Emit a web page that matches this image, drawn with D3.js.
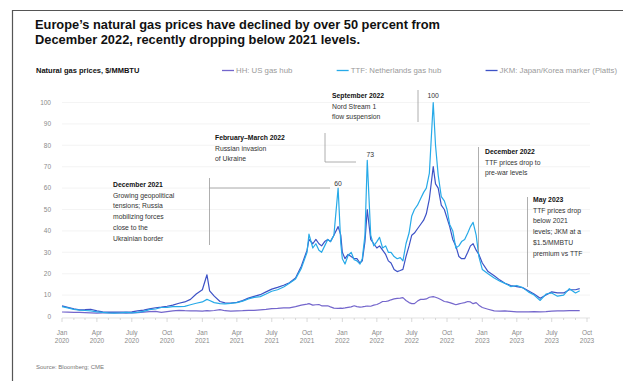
<!DOCTYPE html>
<meta charset="utf-8">
<title>gas prices</title>
<script src="https://cdn.jsdelivr.net/npm/d3@7"></script>
<style>
body { margin: 0; background: #fff; }
text { font-family: "Liberation Sans", Arial, sans-serif; }
.axis text { fill: #8a8a8a; font-size: 6.5px; }
.note { fill: #333; font-size: 6.8px; }
.note-b { fill: #111; font-size: 6.8px; font-weight: bold; }
.lead { stroke: #9a9a9a; stroke-width: 0.8px; fill: none; }
</style>
<body>
<script>

// semi-monthly readings (weekly-ish through the 2021-22 crisis), plus spike days
var dates = [
  "2020-01-01","2020-01-16","2020-02-01","2020-02-16","2020-03-01","2020-03-16","2020-04-01","2020-04-16",
  "2020-05-01","2020-05-16","2020-06-01","2020-06-16","2020-07-01","2020-07-16","2020-08-01","2020-08-16",
  "2020-09-01","2020-09-16","2020-10-01","2020-10-16","2020-11-01","2020-11-16","2020-12-01","2020-12-16",
  "2021-01-01","2021-01-13","2021-01-20","2021-02-01","2021-02-16","2021-03-01","2021-03-16","2021-04-01",
  "2021-04-16","2021-05-01","2021-05-16","2021-06-01","2021-06-16","2021-07-01","2021-07-16","2021-08-01",
  "2021-08-16","2021-09-01","2021-09-16","2021-10-01","2021-10-06","2021-10-16","2021-10-24","2021-11-01",
  "2021-11-08","2021-11-16","2021-11-24","2021-12-01","2021-12-10","2021-12-21","2021-12-28",
  "2022-01-01","2022-01-08","2022-01-16","2022-01-24","2022-02-01","2022-02-08","2022-02-16","2022-02-22",
  "2022-03-01","2022-03-07","2022-03-16","2022-03-24","2022-04-01","2022-04-08","2022-04-16","2022-04-24",
  "2022-05-01","2022-05-08","2022-05-16","2022-05-24","2022-06-01","2022-06-08","2022-06-16","2022-06-24",
  "2022-07-01","2022-07-08","2022-07-16","2022-07-24","2022-08-01","2022-08-08","2022-08-16","2022-08-26",
  "2022-09-01","2022-09-08","2022-09-16","2022-09-24","2022-10-01","2022-10-08","2022-10-16","2022-10-24",
  "2022-11-01","2022-11-08","2022-11-16","2022-11-24","2022-12-01","2022-12-08","2022-12-16","2022-12-23",
  "2023-01-01","2023-01-16","2023-02-01","2023-02-16","2023-03-01","2023-03-16","2023-04-01","2023-04-16",
  "2023-05-01","2023-05-16","2023-06-01","2023-06-16","2023-07-01","2023-07-16","2023-08-01","2023-08-16",
  "2023-09-01","2023-09-12"
];

var ttf = [
  4.6,4.0,3.3,3.0,2.8,2.6,2.2,1.9, 1.7,1.6,1.7,1.9,1.7,1.9,2.4,3.2,
  3.5,4.2,4.3,4.6,4.6,4.7,5.5,6.2,
  6.8,8.0,7.5,6.5,6.0,5.9,6.1,6.5, 7.2,8.2,8.9,9.3,10.5,11.8,12.5,13.8,
  15.5,17.5,22.5,30.0,38.5,32.0,34.0,31.0, 30.0,33.0,36.0,35.0,38.0,60.0,34.0,
  27.0,24.5,28.5,30.0,26.5,26.0,24.5,27.0, 38.0,73.0,38.0,33.0,35.0,37.0,32.0,33.0,
  30.0,30.0,28.0,27.0,27.5,26.0,34.0,39.0, 47.0,50.0,52.0,55.0,58.0,60.0,67.0,100.0,
  80.0,66.0,56.0,54.0,50.0,43.0,40.0,32.0, 33.0,35.0,36.0,39.0,42.0,44.0,38.0,28.0,
  22.0,20.0,18.0,16.5,15.5,14.0,14.5,13.5, 11.5,10.0,7.5,10.5,11.0,9.5,10.0,13.0,
  11.0,12.0
];

var jkm = [
  5.0,4.3,3.6,3.1,3.2,3.4,2.6,2.2, 2.0,2.0,2.1,2.1,2.2,2.6,3.0,3.6,
  4.1,4.4,4.8,5.3,6.2,6.8,8.0,10.5,
  12.5,19.5,12.0,9.5,7.0,6.4,6.3,6.6, 7.4,8.6,9.4,10.2,11.5,12.8,13.6,14.6,
  15.8,18.0,23.5,31.0,36.0,34.0,36.0,34.0, 33.0,35.0,36.0,35.0,38.0,42.0,38.0,
  30.0,27.0,29.0,28.0,27.0,27.0,25.0,26.0, 35.0,50.0,36.0,34.0,32.0,33.0,31.0,29.0,
  26.0,25.0,22.0,21.0,21.5,22.0,28.0,33.0, 38.0,39.0,41.0,43.0,45.0,48.0,55.0,70.0,
  62.0,60.0,52.0,50.0,46.0,42.0,36.0,33.0, 28.0,27.0,27.0,30.0,33.0,34.0,31.0,29.0,
  25.0,21.0,19.0,17.0,15.5,14.5,14.0,13.5, 12.0,10.5,8.5,10.0,11.5,11.0,11.0,12.5,
  12.5,13.0
];

var hh = [
  2.1,2.0,1.9,1.9,1.8,1.7,1.6,1.7, 1.8,1.7,1.7,1.6,1.7,1.8,2.0,2.3,
  2.4,1.9,2.3,2.6,2.9,2.7,2.6,2.6,
  2.5,2.7,2.6,2.8,3.2,2.7,2.5,2.6, 2.7,2.9,2.9,3.1,3.3,3.7,3.8,4.0,
  4.0,4.6,5.3,5.8,6.0,5.3,5.5,5.6, 5.0,5.0,5.0,4.5,3.9,3.8,3.9,
  3.8,4.0,4.3,4.5,5.0,4.6,4.4,4.5, 4.7,4.9,4.8,5.3,5.6,6.2,7.0,7.0,
  7.3,7.8,8.2,8.5,8.6,8.8,7.5,6.5, 6.0,6.0,7.2,8.0,8.0,8.2,9.0,9.3,
  9.0,8.5,7.8,7.0,6.8,6.5,6.0,5.5, 5.9,6.2,6.5,7.0,6.8,6.0,6.5,5.3,
  4.2,3.4,2.6,2.5,2.6,2.4,2.2,2.2, 2.2,2.3,2.2,2.3,2.5,2.6,2.6,2.7,
  2.7,2.7
];

var seriesNames = ["HH: US gas hub", "TTF: Netherlands gas hub", "JKM: Japan/Korea marker (Platts)"];
var yTicks = [0, 10, 20, 30, 40, 50, 60, 70, 80, 90, 100];
var quarterTicks = ["2020-01-01","2020-04-01","2020-07-01","2020-10-01","2021-01-01","2021-04-01","2021-07-01","2021-10-01",
  "2022-01-01","2022-04-01","2022-07-01","2022-10-01","2023-01-01","2023-04-01","2023-07-01","2023-10-01"];
var monthNames = {0: "Jan", 3: "Apr", 6: "July", 9: "Oct"};

var title = ["Europe\u2019s natural gas prices have declined by over 50 percent from",
             "December 2022, recently dropping below 2021 levels."];

var parse = d3.timeParse("%Y-%m-%d");

var width = 623, height = 381;
var svg = d3.select("body").append("svg")
    .attr("width", width)
    .attr("height", height);

// frame
svg.append("line").attr("x1", 12.5).attr("x2", width).attr("y1", 10.5).attr("y2", 10.5)
   .attr("stroke", "#555").attr("stroke-width", 1.2);
svg.append("line").attr("x1", 12.5).attr("x2", 12.5).attr("y1", 10).attr("y2", height)
   .attr("stroke", "#555").attr("stroke-width", 1.2);

// title
title.forEach(function(t, i) {
  svg.append("text")
    .attr("x", 35).attr("y", 29 + i * 15)
    .attr("font-size", "13.5px").attr("font-weight", "bold").attr("fill", "#111")
    .attr("textLength", i == 0 ? 405 : 325).attr("lengthAdjust", "spacingAndGlyphs")
    .text(t);
});

svg.append("text")
  .attr("x", 36).attr("y", 73)
  .attr("font-size", "7.5px").attr("font-weight", "bold").attr("fill", "#111")
  .text("Natural gas prices, $/MMBTU");

var x = d3.scaleTime()
    .domain([parse("2020-01-01"), parse("2023-10-01")])
    .range([62, 587]);

var y = d3.scaleLinear()
    .domain([0, 100])
    .range([316.5, 102.5]);

var color = {hh: "#7466cc", ttf: "#27aae8", jkm: "#3d52c6"};

// legend, spread from x=222 to the right edge
var keys = ["hh", "ttf", "jkm"];
var legItems = keys.map(function(k, i) {
  var g = svg.append("g");
  g.append("line").attr("x1", 0).attr("x2", 12).attr("y1", 70.5).attr("y2", 70.5)
    .attr("stroke", color[k]).attr("stroke-width", 1.3);
  var t = g.append("text").attr("x", 14).attr("y", 73)
    .attr("font-size", "7.8px").attr("fill", "#9a9a9a").text(seriesNames[i]);
  return {g: g, w: 14 + t.node().getComputedTextLength()};
});
var legGap = (617 - 222 - d3.sum(legItems, function(d) { return d.w; })) / 2;
var lx = 222;
legItems.forEach(function(it) {
  it.g.attr("transform", "translate(" + lx + ",0)");
  lx += it.w + legGap;
});

// gridlines + y labels
var yAxis = svg.append("g").attr("class", "axis");
yAxis.selectAll("line.grid")
  .data(yTicks.slice(1))
  .enter().append("line")
  .attr("x1", 62).attr("x2", 590)
  .attr("y1", function(d) { return y(d); })
  .attr("y2", function(d) { return y(d); })
  .attr("stroke", "#efefef").attr("stroke-width", 0.7);
yAxis.selectAll("text")
  .data(yTicks)
  .enter().append("text")
  .attr("x", 51).attr("y", function(d) { return y(d) + 2.3; })
  .attr("text-anchor", "end")
  .text(function(d) { return d; });

// x axis
var xg = svg.append("g").attr("class", "axis");
xg.append("line").attr("x1", 62).attr("x2", 590).attr("y1", 318).attr("y2", 318)
  .attr("stroke", "#d6d6d6").attr("stroke-width", 0.7);
xg.selectAll("line.tick")
  .data(d3.timeMonth.range(parse("2020-01-01"), parse("2023-10-02")))
  .enter().append("line")
  .attr("x1", function(d) { return x(d); }).attr("x2", function(d) { return x(d); })
  .attr("y1", 318).attr("y2", function(d) { return d.getMonth() % 3 == 0 ? 322 : 320; })
  .attr("stroke", "#c8c8c8").attr("stroke-width", 0.7);
var ql = xg.selectAll("g.ql")
  .data(quarterTicks.map(parse))
  .enter().append("g")
  .attr("transform", function(d) { return "translate(" + x(d) + ",0)"; });
ql.append("text").attr("y", 335).attr("text-anchor", "middle")
  .text(function(d) { return monthNames[d.getMonth()]; });
ql.append("text").attr("y", 343).attr("text-anchor", "middle")
  .text(function(d) { return d.getFullYear(); });

// lines
var pts = dates.map(parse);
function drawSeries(vals, c) {
  var line = d3.line()
    .x(function(d, i) { return x(pts[i]); })
    .y(function(d) { return y(d); });
  svg.append("path")
    .datum(vals)
    .attr("d", line)
    .attr("fill", "none")
    .attr("stroke", c)
    .attr("stroke-width", 1.2)
    .attr("stroke-linejoin", "round");
}
drawSeries(hh, color.hh);
drawSeries(jkm, color.jkm);
drawSeries(ttf, color.ttf);

// annotations
function note(x0, y0, lines) {
  lines.forEach(function(l, i) {
    svg.append("text").attr("class", i == 0 ? "note-b" : "note")
      .attr("x", x0).attr("y", y0 + i * 10.7).text(l);
  });
}
function lead(p) {
  svg.append("path").attr("class", "lead").attr("d", d3.line()(p));
}
function peakLabel(px, py, t) {
  svg.append("text").attr("x", px).attr("y", py).attr("text-anchor", "middle")
    .attr("font-size", "6.8px").attr("fill", "#333").text(t);
}

note(113, 187, ["December 2021", "Growing geopolitical", "tensions; Russia", "mobilizing forces",
  "close to the", "Ukrainian border"]);
lead([[209.5, 178], [209.5, 245]]);
lead([[209.5, 188], [330, 188]]);
peakLabel(x(parse("2021-12-21")), 186, "60");

note(215, 140, ["February\u2013March 2022", "Russian invasion", "of Ukraine"]);
lead([[325, 133], [325, 162], [356, 162]]);
peakLabel(x(parse("2022-03-07")) + 3, 157, "73");

note(332, 98, ["September 2022", "Nord Stream 1", "flow suspension"]);
lead([[418, 90], [418, 122]]);
peakLabel(x(parse("2022-08-26")), 98, "100");

note(485, 154, ["December 2022", "TTF prices drop to", "pre-war levels"]);
lead([[478.5, 147], [478.5, 252]]);

note(533, 202, ["May 2023", "TTF prices drop", "below 2021", "levels; JKM at a", "$1.5/MMBTU", "premium vs TTF"]);
lead([[527.5, 197], [527.5, 287]]);

svg.append("text").attr("x", 36).attr("y", 369)
  .attr("font-size", "6px").attr("fill", "#777")
  .text("Source: Bloomberg; CME");

</script>
</body>
</html>
